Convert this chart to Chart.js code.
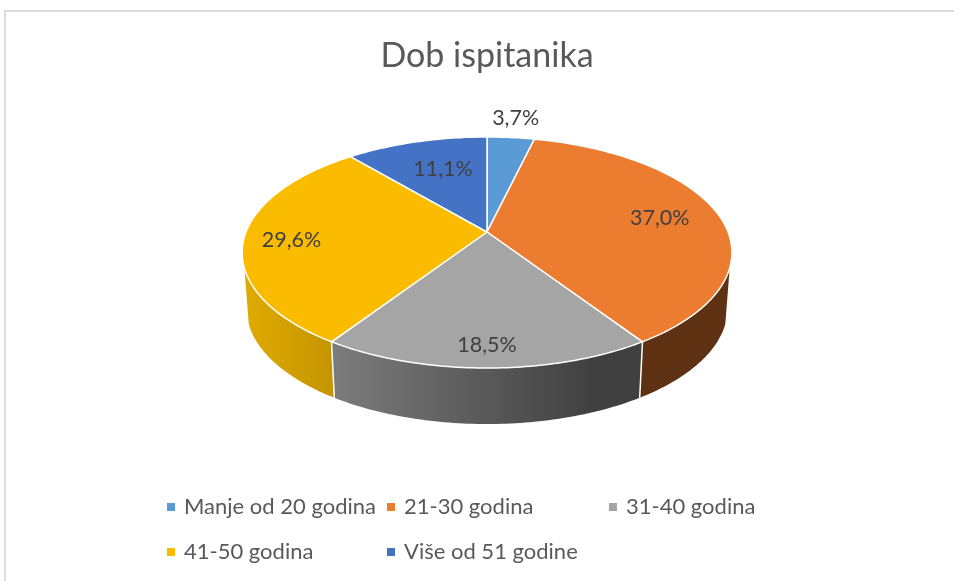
<!DOCTYPE html>
<html>
<head>
<meta charset="utf-8">
<title>Dob ispitanika</title>
<script src="https://cdn.jsdelivr.net/npm/chart.js@4"></script>
<style>
    body { margin: 0; background: #fff; }
    #frame { position: absolute; left: 4px; top: 10px; width: 950px; height: 571px; border-left: 2px solid #dcdcdc; border-top: 2px solid #dcdcdc; box-sizing: border-box; }
    canvas { position: absolute; left: 0; top: 0; }
</style>
</head>
<body>
<div id="frame"></div>
<canvas id="pieChart" width="954" height="581"></canvas>
<script>
const categories = ['Manje od 20 godina', '21-30 godina', '31-40 godina', '41-50 godina', 'Više od 51 godine'];
const shares = [3.7, 37.0, 18.5, 29.6, 11.1];
const colors = ['#5B9BD5', '#EC7C30', '#A5A5A5', '#FBBC00', '#4472C4'];

// how far from the centre each % label sits, 1 = on the rim
const labelRadius = [1.25, 0.74, 0.85, 0.81, 0.66];
const labelNudgeX = [0, 1, 0, 1, 5];
const labelNudgeY = [0, 0, 1.5, 3, 0];
// legend grid
const legendX = [167, 387, 609, 167, 387];
const legendY = [507, 507, 507, 552, 552];

// the pie is tilted, this maps a point of the unit circle to the screen
const centerX = 487, centerY = 232, rimX = 241, rimY = 111.9, tilt = 0.1775, depth = 56, shrink = 0.982;

const project = (angle, r, lower) => {
    const theta = angle + Math.PI / 2;
    const u = r * Math.sin(theta);
    const v = -r * Math.cos(theta);
    const d = 1 - tilt * v;
    const k = lower ? shrink : 1;
    return [centerX + k * rimX * u / d, centerY + rimY * v / d + (lower ? depth : 0)];
};

const rimPoints = (from, to, lower) => {
    const steps = Math.max(2, Math.ceil(Math.abs(to - from) * 60));
    const pts = [];
    for (let i = 0; i <= steps; i++) {
        pts.push(project(from + (to - from) * i / steps, 1, lower));
    }
    return pts;
};

const tracePath = (ctx, pts) => {
    pts.forEach((p, i) => i ? ctx.lineTo(p[0], p[1]) : ctx.moveTo(p[0], p[1]));
};

// side of the pie, only the front part shows
const wallFill = (ctx, i) => {
    if (i === 1) return '#5E3113';
    if (i === 2) {
        const g = ctx.createLinearGradient(333, 0, 640, 0);
        g.addColorStop(0, '#7C7C7C');
        g.addColorStop(0.85, '#404040');
        g.addColorStop(1, '#404040');
        return g;
    }
    const g = ctx.createLinearGradient(245, 0, 333, 0);
    g.addColorStop(0, '#DFAA00');
    g.addColorStop(1, '#C49500');
    return g;
};

const tiltedPie = {
    id: 'tiltedPie',
    beforeDatasetDraw(chart, args) {
        const ctx = chart.ctx;
        const arcs = args.meta.data;
        const frontFrom = -Math.PI / 2 + 1.88;
        const frontTo = -Math.PI / 2 + 4.40;

        ctx.save();
        arcs.forEach((arc, i) => {
            const from = Math.max(arc.startAngle, frontFrom);
            const to = Math.min(arc.endAngle, frontTo);
            if (to <= from) return;
            const top = rimPoints(from, to, false);
            const bottom = rimPoints(from, to, true).reverse();
            ctx.beginPath();
            tracePath(ctx, top.concat(bottom));
            ctx.closePath();
            ctx.fillStyle = wallFill(ctx, i);
            ctx.fill();
        });

        // white seams between the walls
        ctx.strokeStyle = '#fff';
        ctx.lineWidth = 1.5;
        arcs.forEach(arc => {
            if (arc.startAngle <= frontFrom || arc.startAngle >= frontTo) return;
            ctx.beginPath();
            tracePath(ctx, [project(arc.startAngle, 1, false), project(arc.startAngle, 1, true)]);
            ctx.stroke();
        });

        arcs.forEach((arc, i) => {
            ctx.beginPath();
            ctx.moveTo(centerX, centerY);
            rimPoints(arc.startAngle, arc.endAngle, false).forEach(p => ctx.lineTo(p[0], p[1]));
            ctx.closePath();
            ctx.fillStyle = colors[i];
            ctx.fill();
            ctx.strokeStyle = '#fff';
            ctx.lineWidth = 1.5;
            ctx.lineJoin = 'round';
            ctx.stroke();
        });

        ctx.font = '21.5px Lato, "Open Sans", sans-serif';
        ctx.fillStyle = '#404040';
        ctx.textAlign = 'center';
        ctx.textBaseline = 'middle';
        arcs.forEach((arc, i) => {
            const p = project((arc.startAngle + arc.endAngle) / 2, labelRadius[i], false);
            ctx.fillText(shares[i].toFixed(1).replace('.', ',') + '%', p[0] + labelNudgeX[i], p[1] + labelNudgeY[i]);
        });
        ctx.restore();
        return false;
    },
    afterDraw(chart) {
        const ctx = chart.ctx;
        ctx.save();
        ctx.font = '22px Lato, "Open Sans", sans-serif';
        ctx.textAlign = 'left';
        ctx.textBaseline = 'middle';
        categories.forEach((name, i) => {
            ctx.fillStyle = colors[i];
            ctx.fillRect(legendX[i], legendY[i] - 4, 8, 8);
            ctx.fillStyle = '#595959';
            ctx.fillText(name, legendX[i] + 17, legendY[i]);
        });
        ctx.restore();
    }
};

new Chart(document.getElementById('pieChart').getContext('2d'), {
    type: 'pie',
    data: {
        labels: categories,
        datasets: [{
            data: shares,
            backgroundColor: colors,
            borderColor: '#fff'
        }]
    },
    options: {
        responsive: false,
        animation: false,
        layout: { padding: { left: 20 } },
        plugins: {
            legend: { display: false },
            tooltip: { enabled: false },
            title: {
                display: true,
                text: 'Dob ispitanika',
                color: '#595959',
                font: { family: 'Lato, "Open Sans", sans-serif', size: 34, weight: 'normal' },
                padding: { top: 36, bottom: 10 }
            }
        }
    },
    plugins: [tiltedPie]
});
</script>
</body>
</html>
